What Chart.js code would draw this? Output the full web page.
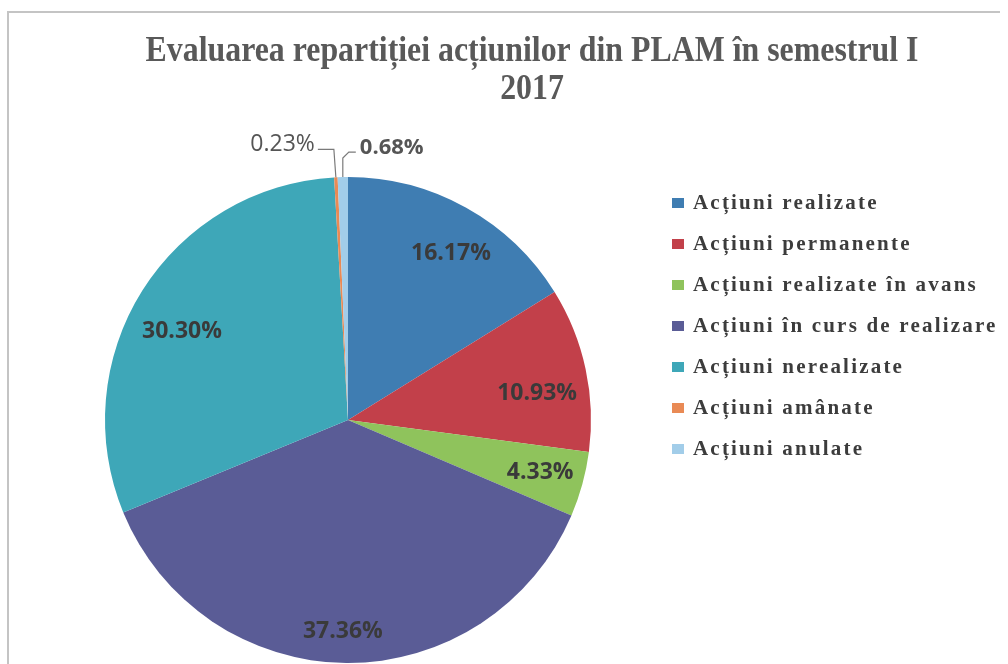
<!DOCTYPE html>
<html>
<head>
<meta charset="utf-8">
<script src="https://cdn.jsdelivr.net/npm/chart.js@4"></script>
<style>
html,body{margin:0;padding:0;background:#fff;}
#wrap{position:relative;width:1008px;height:664px;}
</style>
</head>
<body>
<div id="wrap"><canvas id="c" width="1008" height="664"></canvas></div>
<script>
const titleLines = ["Evaluarea repartiției acțiunilor din PLAM în semestrul I", "2017"];
const categories = ["Acțiuni realizate", "Acțiuni permanente", "Acțiuni realizate în avans", "Acțiuni în curs de realizare", "Acțiuni nerealizate", "Acțiuni amânate", "Acțiuni anulate"];
const values = [16.17, 10.93, 4.33, 37.36, 30.30, 0.23, 0.68];
const valueLabels = ["16.17%", "10.93%", "4.33%", "37.36%", "30.30%", "0.23%", "0.68%"];
const colors = ["#3f7db2", "#c2404a", "#8fc35c", "#5a5c96", "#3ea7b8", "#e98a55", "#a2cde9"];

const labelRadius = [0.806, 0.786, 0.82, 0.87, 0.775];
const labelAngleShift = [2.6, 4, 0, 1, -4];

const drawPlugin = {
  id: 'custom',
  afterDraw(chart) {
    const ctx = chart.ctx;
    ctx.save();
    // frame
    ctx.strokeStyle = '#c4c4c4';
    ctx.lineWidth = 2;
    ctx.beginPath();
    ctx.moveTo(8, 664); ctx.lineTo(8, 12); ctx.lineTo(1000, 12);
    ctx.stroke();

    // title (tall, slightly condensed serif)
    ctx.fillStyle = '#595959';
    ctx.font = 'bold 35px "Liberation Serif"';
    ctx.textAlign = 'center';
    ctx.textBaseline = 'alphabetic';
    ctx.save();
    ctx.translate(532, 0);
    ctx.scale(0.91, 1);
    ctx.fillText(titleLines[0], 0, 61);
    ctx.fillText(titleLines[1], 0, 99);
    ctx.restore();

    // value labels
    const meta = chart.getDatasetMeta(0);
    ctx.textAlign = 'center';
    ctx.textBaseline = 'middle';
    ctx.fillStyle = '#3a3a3a';
    ctx.font = 'bold 23px "Open Sans"';
    for (let i = 0; i < 5; i++) {
      const a = meta.data[i];
      const mid = (a.startAngle + a.endAngle) / 2 + labelAngleShift[i] * Math.PI / 180;
      const r = a.outerRadius * labelRadius[i];
      ctx.fillText(valueLabels[i], a.x + Math.cos(mid) * r, a.y + Math.sin(mid) * r);
    }
    // small outside labels with leader lines
    ctx.strokeStyle = '#7a7a7a';
    ctx.lineWidth = 1.2;
    ctx.font = '23px "Open Sans"';
    ctx.fillStyle = '#555';
    {
      const a = meta.data[5];
      const mid = (a.startAngle + a.endAngle) / 2;
      const ex = a.x + Math.cos(mid) * a.outerRadius, ey = a.y + Math.sin(mid) * a.outerRadius;
      ctx.beginPath();
      ctx.moveTo(ex, ey); ctx.lineTo(ex - 2, ey - 28); ctx.lineTo(ex - 18, ey - 28);
      ctx.stroke();
      ctx.textAlign = 'right';
      ctx.fillText(valueLabels[5], ex - 21, ey - 33);
    }
    {
      const a = meta.data[6];
      const mid = (a.startAngle + a.endAngle) / 2;
      const ex = a.x + Math.cos(mid) * a.outerRadius, ey = a.y + Math.sin(mid) * a.outerRadius;
      ctx.beginPath();
      ctx.moveTo(ex, ey); ctx.lineTo(ex, ey - 19); ctx.lineTo(ex + 6, ey - 25); ctx.lineTo(ex + 13, ey - 25);
      ctx.stroke();
      ctx.textAlign = 'left';
      ctx.font = 'bold 22px "Open Sans"';
      ctx.fillText(valueLabels[6], ex + 17, ey - 29);
    }

    // legend
    ctx.font = 'bold 21px "Liberation Serif"';
    ctx.textAlign = 'left';
    ctx.textBaseline = 'middle';
    try { ctx.letterSpacing = '2.2px'; } catch (e) {}
    categories.forEach((c, i) => {
      const y = 203 + i * 41;
      ctx.fillStyle = colors[i];
      ctx.fillRect(672, y - 5, 12, 10);
      ctx.fillStyle = '#3c3c3c';
      ctx.fillText(c, 693, y + 1);
    });
    ctx.restore();
  }
};

new Chart(document.getElementById('c'), {
  type: 'pie',
  data: {
    labels: categories,
    datasets: [{ data: values, backgroundColor: colors, borderWidth: 0 }]
  },
  options: {
    responsive: false,
    animation: false,
    layout: { padding: { left: 105, right: 417, top: 177, bottom: 1 } },
    plugins: { legend: { display: false }, title: { display: false }, tooltip: { enabled: false } }
  },
  plugins: [drawPlugin]
});
</script>
</body>
</html>
